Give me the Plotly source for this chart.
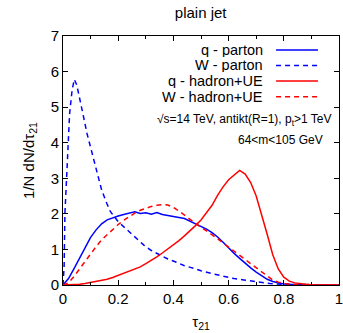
import plotly.graph_objects as go

# tau_21 grid shared by the q-parton and hadron-level distributions
tau = [round(0.02 * i, 2) for i in range(51)]

q_parton = [0.00, 0.18, 0.46, 0.75, 1.06, 1.34, 1.55, 1.72, 1.83, 1.89,
            1.94, 1.98, 2.01, 2.06, 2.01, 2.03, 1.99, 2.04, 1.98, 1.96,
            1.93, 1.90, 1.87, 1.80, 1.73, 1.65, 1.57, 1.47, 1.35, 1.20,
            1.04, 0.89, 0.75, 0.61, 0.48, 0.36, 0.25, 0.16, 0.10, 0.06,
            0.03, 0.02, 0.01, 0.00, 0.00, 0.00, 0.00, 0.00, 0.00, 0.00, 0.00]

q_hadron = [0.00, 0.00, 0.01, 0.02, 0.04, 0.07, 0.09, 0.12, 0.16, 0.21,
            0.27, 0.32, 0.38, 0.44, 0.51, 0.60, 0.69, 0.79, 0.90, 1.01,
            1.12, 1.25, 1.38, 1.52, 1.67, 1.83, 2.02, 2.24, 2.52, 2.76,
            2.96, 3.10, 3.22, 3.12, 2.88, 2.50, 1.98, 1.42, 0.85, 0.45,
            0.22, 0.11, 0.06, 0.03, 0.02, 0.01, 0.00, 0.00, 0.00, 0.00, 0.00]

w_hadron = [0.00, 0.06, 0.24, 0.45, 0.68, 0.90, 1.08, 1.27, 1.42, 1.56,
            1.70, 1.82, 1.93, 2.02, 2.10, 2.16, 2.21, 2.24, 2.26, 2.25,
            2.18, 2.08, 1.96, 1.84, 1.73, 1.62, 1.52, 1.42, 1.30, 1.18,
            1.07, 0.95, 0.84, 0.72, 0.60, 0.48, 0.36, 0.24, 0.14, 0.08,
            0.04, 0.02, 0.01, 0.00, 0.00, 0.00, 0.00, 0.00, 0.00, 0.00, 0.00]

# W-parton needs a finer grid near zero because of its sharp peak
tau_w = [0.0, 0.004, 0.007, 0.012, 0.017, 0.024, 0.033, 0.041, 0.05, 0.057,
         0.072, 0.087, 0.105, 0.123, 0.14, 0.159, 0.172, 0.2, 0.232, 0.26,
         0.293, 0.32, 0.353, 0.38, 0.414, 0.44, 0.474, 0.5, 0.535, 0.56,
         0.594, 0.62, 0.655, 0.69, 0.716, 0.75, 0.8, 0.85, 0.9, 1.0]
w_parton = [0.0, 0.5, 2.02, 2.95, 3.89, 4.82, 5.48, 5.78, 5.62, 5.34,
            4.82, 4.26, 3.70, 3.14, 2.67, 2.29, 2.06, 1.78, 1.55, 1.34,
            1.12, 0.97, 0.84, 0.73, 0.63, 0.54, 0.47, 0.40, 0.33, 0.28,
            0.23, 0.18, 0.14, 0.10, 0.07, 0.04, 0.02, 0.01, 0.0, 0.0]

x_ticks = [0, 0.2, 0.4, 0.6, 0.8, 1]
x_ticktext = ["0", "0.2", "0.4", "0.6", "0.8", "1"]

BLUE = "#0000ff"
RED = "#ff0000"
DASH = "5px,4px"
FONT = "Liberation Sans, Arial, sans-serif"

series = [
    ("q - parton", tau, q_parton, BLUE, "solid"),
    ("W - parton", tau_w, w_parton, BLUE, DASH),
    ("q - hadron+UE", tau, q_hadron, RED, "solid"),
    ("W - hadron+UE", tau, w_hadron, RED, DASH),
]

fig = go.Figure()
for name, x, y, color, dash in series:
    fig.add_trace(go.Scatter(x=x, y=y, mode="lines", name=name,
                             line=dict(color=color, width=1.5, dash=dash),
                             showlegend=False))

# gnuplot-style key: right-aligned text with the line sample to its right
key_rows = [0.944, 0.882, 0.819, 0.756]
for (name, _, _, color, dash), yk in zip(series, key_rows):
    fig.add_annotation(x=0.732, y=yk, xref="paper", yref="paper",
                       text=name, showarrow=False, xanchor="right",
                       yanchor="middle", height=14,
                       font=dict(size=14.5, color="black"))
    fig.add_shape(type="line", xref="paper", yref="paper",
                  x0=0.772, x1=0.924, y0=yk, y1=yk,
                  line=dict(color=color, width=1.5, dash=dash))

fig.add_annotation(x=0.978, y=0.663, xref="paper", yref="paper",
                   text="\u221as=14 TeV, antikt(R=1), p<sub>t</sub>>1 TeV",
                   showarrow=False, xanchor="right", yanchor="middle",
                   font=dict(size=12, color="black"))
fig.add_annotation(x=0.949, y=0.582, xref="paper", yref="paper",
                   text="64<m<105 GeV", showarrow=False, xanchor="right",
                   yanchor="middle", font=dict(size=12, color="black"))

axis_common = dict(showline=True, linecolor="black", linewidth=1,
                   mirror="ticks", ticks="inside", tickcolor="black",
                   ticklen=5, showgrid=False, zeroline=False,
                   automargin=False, ticklabeloverflow="allow",
                   tickfont=dict(size=15, color="black"))

fig.update_xaxes(range=[0, 1], tickvals=x_ticks, ticktext=x_ticktext,
                 minor=dict(dtick=0.1, ticks="inside", ticklen=3,
                            tickcolor="black"),
                 title=dict(text="\u03c4<sub>21</sub>", standoff=10,
                            font=dict(size=15, color="black")),
                 **axis_common)
fig.update_yaxes(range=[0, 7], dtick=1, tick0=0,
                 title=dict(text="1/N dN/d\u03c4<sub>21</sub>", standoff=12,
                            font=dict(size=15, color="black")),
                 **axis_common)

fig.update_layout(
    width=343, height=333,
    margin=dict(l=63, r=4, t=36, b=48),
    paper_bgcolor="white", plot_bgcolor="white",
    font=dict(family=FONT, color="black"),
    title=dict(text="plain jet", x=0.585, xanchor="center", y=0.962,
               yanchor="middle", font=dict(size=15, color="black")),
)

fig.write_html("out.html")
